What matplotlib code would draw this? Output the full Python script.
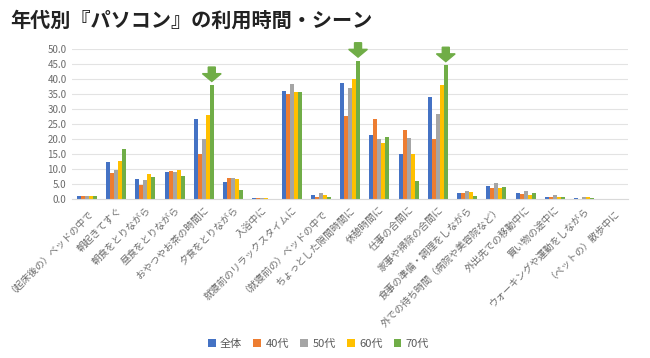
#!/usr/bin/env python3
"""PC usage time and scene by age group: grouped bar chart."""

import matplotlib

matplotlib.use("Agg")
import matplotlib.pyplot as plt
import numpy as np
from matplotlib.patches import FancyArrow

plt.rcParams["font.family"] = ["Noto Sans CJK JP", "DejaVu Sans"]

CATEGORIES = [
    "（起床後の）ベッドの中で",
    "朝起きてすぐ",
    "朝食をとりながら",
    "昼食をとりながら",
    "おやつやお茶の時間に",
    "夕食をとりながら",
    "入浴中に",
    "就寝前のリラックスタイムに",
    "（就寝前の）ベッドの中で",
    "ちょっとした隙間時間に",
    "休憩時間に",
    "仕事の合間に",
    "家事や掃除の合間に",
    "食事の準備・調理をしながら",
    "外での待ち時間（病院や美容院など）",
    "外出先での移動中に",
    "買い物の途中に",
    "ウォーキングや運動をしながら",
    "（ペットの）散歩中に",
]
SERIES = ["全体", "40代", "50代", "60代", "70代"]
ZENTAI = [0.9, 12.3, 6.7, 8.9, 26.7, 5.7, 0.3, 36.1, 1.3, 38.8, 21.2, 15.0, 34.0, 1.9, 4.3, 1.9, 0.8, 0.2, 0.0]
AGE40 = [0.9, 8.8, 4.7, 9.3, 15.1, 7.0, 0.2, 34.9, 0.8, 27.6, 26.6, 22.9, 20.0, 1.9, 3.8, 1.6, 0.7, 0.1, 0.0]
AGE50 = [0.9, 9.7, 6.2, 8.9, 20.1, 6.9, 0.4, 38.3, 2.0, 37.1, 20.0, 20.2, 28.4, 2.8, 5.4, 2.8, 1.2, 0.6, 0.0]
AGE60 = [0.9, 12.6, 8.3, 9.8, 28.1, 6.7, 0.2, 35.8, 1.4, 40.0, 18.7, 14.9, 38.0, 2.3, 3.8, 1.2, 0.7, 0.6, 0.0]
AGE70 = [0.9, 16.6, 7.2, 7.8, 38.0, 3.1, 0.1, 35.6, 0.7, 46.1, 20.7, 6.0, 44.6, 0.9, 4.0, 1.9, 0.7, 0.3, 0.0]
HIGHLIGHT = [4, 9, 12]  # groups marked with a green arrow
COLORS = ["#4472C4", "#ED7D31", "#A5A5A5", "#FFC000", "#70AD47"]


def main() -> None:
    fig = plt.figure(figsize=(6.5, 3.58), dpi=100)
    ax = fig.add_axes([0.111, 0.444, 0.855, 0.419])
    values = [ZENTAI, AGE40, AGE50, AGE60, AGE70]
    x = np.arange(len(CATEGORIES))
    width = 0.137
    for k, (name, vals, color) in enumerate(zip(SERIES, values, COLORS)):
        ax.bar(x + (k - 2) * width, vals, width, color=color, label=name, zorder=2)

    for idx in HIGHLIGHT:
        cx = idx + 2 * width
        top = AGE70[idx] + 6.0
        arrow = FancyArrow(
            cx, top, 0, -4.8, width=0.24, head_width=0.64, head_length=2.6,
            length_includes_head=True, color="#70AD47", clip_on=False, zorder=3,
        )
        ax.add_patch(arrow)

    ax.set_xlim(-0.5, len(CATEGORIES) - 0.5)
    ax.set_ylim(0, 50)
    ax.set_yticks(np.arange(0, 50.1, 5))
    ax.set_yticklabels([f"{v:.1f}" for v in np.arange(0, 50.1, 5)])
    ax.yaxis.grid(True, color="#E3E3E3", linewidth=0.8, zorder=0)
    ax.set_axisbelow(True)
    ax.set_xticks(x)
    ax.set_xticklabels(CATEGORIES, rotation=45, ha="right", rotation_mode="anchor")
    ax.tick_params(axis="both", length=0, labelsize=7, colors="#6B6B6B", pad=4)
    for side in ("left", "right", "top"):
        ax.spines[side].set_visible(False)
    ax.spines["bottom"].set_color("#D9D9D9")

    fig.legend(
        loc="center", bbox_to_anchor=(0.49, 0.04), ncol=5, frameon=False,
        fontsize=8, handlelength=0.7, handleheight=0.7, handletextpad=0.4,
        columnspacing=1.0, labelcolor="#595959",
    )
    fig.text(0.015, 0.945, "年代別『パソコン』の利用時間・シーン", fontsize=14.5,
             fontweight="bold", color="#222222", va="center", ha="left")
    fig.savefig("out.png", dpi=100)
    plt.close(fig)


if __name__ == "__main__":
    main()
